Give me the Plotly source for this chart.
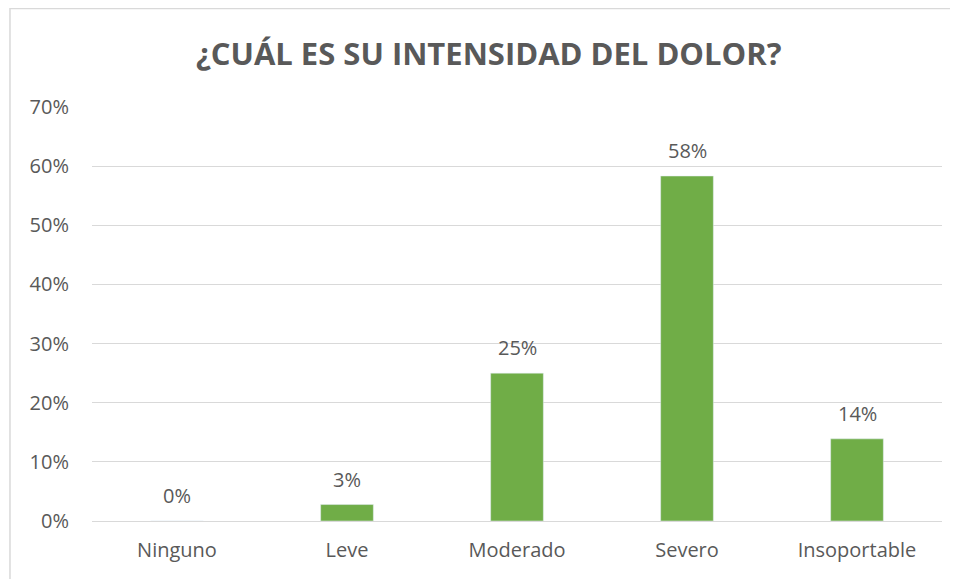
import plotly.graph_objects as go

# respuestas (36 encuestados)
categorias = ["Ninguno", "Leve", "Moderado", "Severo", "Insoportable"]
porcentajes = [0.0, 0.0278, 0.25, 0.5833, 0.1389]
etiquetas = ["0%", "3%", "25%", "58%", "14%"]
ticks_y = [0, 0.1, 0.2, 0.3, 0.4, 0.5, 0.6, 0.7]

gris = "#595959"

fig = go.Figure()

fig.add_trace(go.Bar(
    x=categorias,
    y=porcentajes,
    marker=dict(color="#70AD47"),
    width=0.31,
    showlegend=False
))

# etiquetas de datos encima de cada barra
for cat, val, txt in zip(categorias, porcentajes, etiquetas):
    fig.add_annotation(
        x=cat, y=val, text=txt,
        showarrow=False, yanchor="bottom", yshift=10,
        font=dict(size=20, color=gris)
    )

fig.update_layout(
    width=950,
    height=571,
    paper_bgcolor="white",
    plot_bgcolor="white",
    font=dict(family="Open Sans", color=gris),
    title=dict(
        text="<b>¿CUÁL ES SU INTENSIDAD DEL DOLOR?</b>",
        x=0.506, xref="container", xanchor="center",
        y=0.92, yref="container", yanchor="middle",
        font=dict(size=31, color=gris)
    ),
    margin=dict(l=84, r=16, t=99, b=58),
    xaxis=dict(
        showgrid=False,
        showline=False,
        ticks="",
        tickfont=dict(size=20, color=gris),
        ticklabelstandoff=15
    ),
    yaxis=dict(
        range=[0, 0.7],
        tickvals=ticks_y,
        tickformat=".0%",
        showgrid=True,
        gridcolor="#D9D9D9",
        gridwidth=1,
        zeroline=True,
        zerolinecolor="#D9D9D9",
        zerolinewidth=1,
        ticks="",
        tickfont=dict(size=20, color=gris),
        ticklabelstandoff=22
    ),
    shapes=[dict(
        type="rect", xref="paper", yref="paper",
        x0=-0.0965, x1=1.1, y0=-0.3, y1=1.238,
        line=dict(color="#D9D9D9", width=1.5),
        fillcolor="rgba(0,0,0,0)"
    )]
)

fig.write_html("out.html")
